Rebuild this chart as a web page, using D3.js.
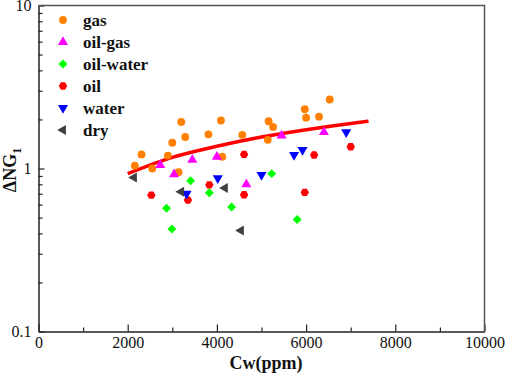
<!DOCTYPE html>
<html lang="en">
<head>
    <meta charset="UTF-8">
    <title>dNG1 vs Cw</title>
    <script src="https://d3js.org/d3.v7.min.js"></script>
    <style>
        body { margin: 0; background: #fff; }
        svg { display: block; font-family: "Liberation Serif", "Times New Roman", serif; }
    </style>
</head>
<body>
    <div id="chart"></div>

    <script>
        // category names, in legend order
        var categories = ["gas", "oil-gas", "oil-water", "oil", "water", "dry"];

        // Cw (ppm) and dNG1
        var gasX = [2160, 2310, 2550, 2900, 3000, 3140, 3200, 3290, 3810, 4090, 4120, 4570, 5140, 5160, 5260, 5970, 6000, 6290, 6530];
        var gasY = [1.04, 1.22, 1.00, 1.20, 1.44, 0.95, 1.93, 1.56, 1.62, 1.97, 1.18, 1.61, 1.50, 1.95, 1.80, 2.31, 2.05, 2.08, 2.65];

        var oilGasX = [2730, 3040, 3450, 4000, 4660, 5450, 6400];
        var oilGasY = [1.05, 0.92, 1.13, 1.18, 0.80, 1.59, 1.67];

        var oilWaterX = [2870, 2990, 3410, 3830, 4330, 5230, 5800];
        var oilWaterY = [0.57, 0.425, 0.84, 0.71, 0.58, 0.93, 0.487];

        var oilX = [2530, 3350, 3830, 4610, 4610, 5970, 6180, 7000];
        var oilY = [0.686, 0.64, 0.794, 1.22, 0.69, 0.713, 1.21, 1.36];

        var waterX = [3320, 4020, 5000, 5730, 5920, 6900];
        var waterY = [0.70, 0.873, 0.914, 1.21, 1.30, 1.67];

        var dryX = [2140, 3200, 4180, 4540];
        var dryY = [0.88, 0.72, 0.76, 0.417];

        // trend line
        var fitX = [2000, 3000, 4000, 5000, 6000, 7000, 7400];
        var fitY = [0.93, 1.17, 1.37, 1.56, 1.73, 1.89, 1.95];

        var xTicks = [0, 2000, 4000, 6000, 8000, 10000];
        var yTicks = [0.1, 1, 10];

        var seriesX = [gasX, oilGasX, oilWaterX, oilX, waterX, dryX];
        var seriesY = [gasY, oilGasY, oilWaterY, oilY, waterY, dryY];
        var colors = ["#ff8000", "#ff00ff", "#00ff00", "#ff0000", "#0000ff", "#404040"];

        var serif = "'Liberation Serif', 'Times New Roman', serif";

        function drawChart() {
            var width = 505, height = 374;
            var m = { left: 38.5, right: 484.5, top: 5.5, bottom: 331.5 };

            var svg = d3.select("#chart").append("svg")
                .attr("width", width)
                .attr("height", height);

            var x = d3.scaleLinear().domain([0, 10000]).range([m.left, m.right]);
            var y = d3.scaleLog().domain([0.1, 10]).range([m.bottom, m.top]);

            // custom marker shapes
            function poly(n, rot) {
                return {
                    draw: function(ctx, size) {
                        var r = Math.sqrt(size / (n * 0.5 * Math.sin(2 * Math.PI / n)));
                        for (var i = 0; i < n; i++) {
                            var a = rot + i * 2 * Math.PI / n;
                            var px = r * Math.cos(a), py = r * Math.sin(a);
                            if (i === 0) ctx.moveTo(px, py); else ctx.lineTo(px, py);
                        }
                        ctx.closePath();
                    }
                };
            }
            var shapes = [
                d3.symbolCircle,
                poly(3, -Math.PI / 2),      // up triangle
                poly(4, 0),                 // diamond
                poly(6, 0),                 // hexagon
                poly(3, Math.PI / 2),       // down triangle
                poly(3, Math.PI)            // left triangle
            ];
            var sizes = [48, 44, 40, 46, 44, 44];

            // minor ticks
            var xMinor = d3.range(1000, 10000, 2000);
            var yMinor = [];
            [0.1, 1].forEach(function(d) {
                for (var k = 2; k <= 9; k++) yMinor.push(+(d * k).toFixed(2));
            });

            svg.append("g")
                .attr("transform", "translate(0," + m.bottom + ")")
                .call(d3.axisBottom(x).tickValues(xTicks).tickFormat(d3.format("d"))
                    .tickSizeInner(-7).tickSizeOuter(0).tickPadding(5));
            svg.append("g")
                .attr("transform", "translate(0," + m.bottom + ")")
                .call(d3.axisBottom(x).tickValues(xMinor).tickFormat("")
                    .tickSizeInner(-4).tickSizeOuter(0))
                .select(".domain").remove();

            svg.append("g")
                .attr("transform", "translate(" + m.left + ",0)")
                .call(d3.axisLeft(y).tickValues(yTicks).tickFormat(function(d) { return String(d); })
                    .tickSizeInner(-6).tickSizeOuter(0).tickPadding(7));
            svg.append("g")
                .attr("transform", "translate(" + m.left + ",0)")
                .call(d3.axisLeft(y).tickValues(yMinor).tickFormat("")
                    .tickSizeInner(-4).tickSizeOuter(0))
                .select(".domain").remove();

            svg.selectAll("g").attr("font-family", serif);
            svg.selectAll(".domain").attr("stroke", "#222").attr("stroke-width", 1.5);
            svg.selectAll(".tick line").attr("stroke", "#222").attr("stroke-width", 1.2);
            svg.selectAll(".tick text")
                .attr("font-family", serif)
                .attr("font-size", 16)
                .attr("fill", "#111");

            // top and right border
            svg.append("path")
                .attr("d", "M" + m.left + "," + m.top + "H" + m.right + "V" + m.bottom)
                .attr("fill", "none")
                .attr("stroke", "#555")
                .attr("stroke-width", 1.5);

            // trend line
            var line = d3.line()
                .x(function(d) { return x(d[0]); })
                .y(function(d) { return y(d[1]); })
                .curve(d3.curveMonotoneX);
            svg.append("path")
                .datum(d3.zip(fitX, fitY))
                .attr("d", line)
                .attr("fill", "none")
                .attr("stroke", "#ff0000")
                .attr("stroke-width", 3.5);

            // points
            seriesX.forEach(function(xs, i) {
                var sym = d3.symbol().type(shapes[i]).size(sizes[i]);
                svg.append("g").selectAll("path")
                    .data(d3.zip(xs, seriesY[i]))
                    .join("path")
                    .attr("transform", function(d) { return "translate(" + x(d[0]) + "," + y(d[1]) + ")"; })
                    .attr("d", sym)
                    .attr("fill", colors[i]);
            });

            // legend
            var legend = svg.append("g");
            categories.forEach(function(name, i) {
                var cy = 20 + i * 22;
                legend.append("path")
                    .attr("transform", "translate(63," + cy + ")")
                    .attr("d", d3.symbol().type(shapes[i]).size(sizes[i])())
                    .attr("fill", colors[i]);
                legend.append("text")
                    .attr("x", 83)
                    .attr("y", cy + 6)
                    .attr("font-family", serif)
                    .attr("font-size", 17)
                    .attr("font-weight", "bold")
                    .attr("fill", "#111")
                    .text(name);
            });

            // axis titles
            svg.append("text")
                .attr("x", 266)
                .attr("y", 369)
                .attr("text-anchor", "middle")
                .attr("font-family", serif)
                .attr("font-size", 18)
                .attr("font-weight", "bold")
                .attr("fill", "#111")
                .text("Cw(ppm)");

            var yt = svg.append("text")
                .attr("transform", "translate(16,170) rotate(-90)")
                .attr("text-anchor", "middle")
                .attr("font-family", serif)
                .attr("font-size", 18)
                .attr("font-weight", "bold")
                .attr("fill", "#111");
            yt.append("tspan").text("\u0394NG");
            yt.append("tspan").attr("font-size", 12).attr("dy", 5).text("1");
        }

        drawChart();
    </script>
</body>
</html>
